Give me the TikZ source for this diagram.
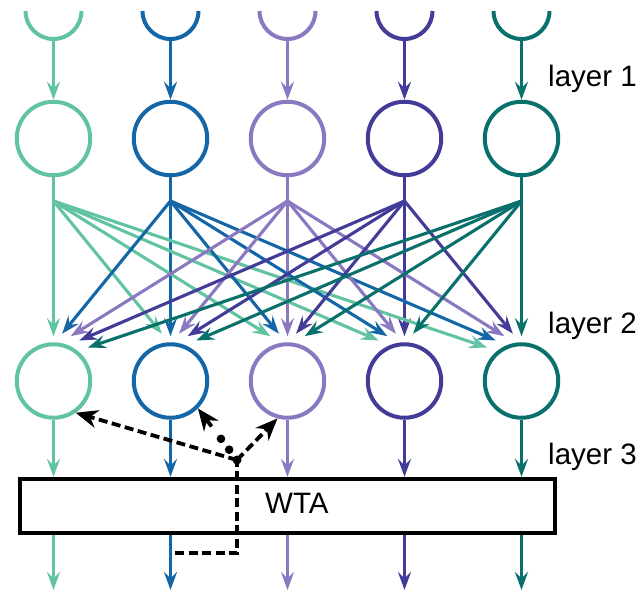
\documentclass[tikz,border=0pt]{standalone}
\usepackage{fontspec}
\setmainfont{Liberation Sans}
\usetikzlibrary{arrows.meta,calc}
\definecolor{cA}{HTML}{62C3A2}
\definecolor{cB}{HTML}{1566A6}
\definecolor{cC}{HTML}{8A78C0}
\definecolor{cD}{HTML}{423C98}
\definecolor{cE}{HTML}{0A706B}
\tikzset{
  arr/.style={line width=3.1pt,-{Stealth[length=18pt,width=13pt,inset=6.5pt]}},
  neuron/.style={circle,line width=4pt,minimum size=73.5pt,inner sep=0pt},
  cupline/.style={line width=4pt},
  lab/.style={anchor=base west,inner sep=0pt,font=\fontsize{29.5}{30}\selectfont},
  dashline/.style={line width=3.8pt,dash pattern=on 9pt off 4.5pt},
  blackarr/.style={line width=3.8pt,-{Stealth[length=22pt,width=18pt,inset=7pt]}},
}
\begin{document}
\begin{tikzpicture}[x=1pt,y=-1pt]
\useasboundingbox (0,0) rectangle (643,592);
% WTA box
\node[draw,line width=3.8pt,minimum width=535.5pt,minimum height=54.5pt,inner sep=0pt] (wta) at (287.5,506) {};
\node[lab] (wtatext) at (265,513) {WTA};
% columns
\foreach \k/\c in {1/cA,2/cB,3/cC,4/cD,5/cE} {
  \pgfmathsetmacro{\xx}{53.5+117*(\k-1)}
  \coordinate (u\k) at (\xx,39);
  \coordinate (j\k) at (\xx,201);
  \coordinate (o\k) at (\xx,590);
  \draw[cupline,\c] (\xx-28,11) arc[start angle=180,end angle=360,radius=28pt];
  \node[neuron,draw=\c] (a\k) at (\xx,138.5) {};
  \node[neuron,draw=\c] (b\k) at (\xx,381) {};
  \draw[arr,\c] (u\k) -- (a\k);
  \draw[arr,\c,shorten >=6pt] (a\k) -- (b\k);
  \draw[arr,\c] (b\k) -- (b\k |- wta.north);
  \draw[arr,\c] (b\k |- wta.south) -- (o\k);
}
% all-to-all connections
\foreach \k/\c in {1/cA,2/cB,3/cC,4/cD,5/cE} {
  \foreach \j in {1,...,5} {
    \ifnum\j=\k\else
      \pgfmathsetmacro{\off}{8.6*(\k-\j)}
      \pgfmathsetmacro{\yy}{381-sqrt(2304-\off*\off)}
      \pgfmathsetmacro{\tx}{53.5+117*(\j-1)+\off}
      \coordinate (t\k\j) at (\tx,\yy);
      \draw[arr,\c] (j\k) -- (t\k\j);
    \fi
  }
}
% labels
\node[lab] (l1) at (548,86) {layer 1};
\node[lab] (l2) at (548,333) {layer 2};
\node[lab] (l3) at (548,464) {layer 3};
% WTA feedback
\coordinate (J) at (237,460);
\coordinate (w0) at (175,553);
\coordinate (w1) at (237,553);
\draw[dashline] (w0) -- (w1) -- (J);
\draw[dashline,-{Stealth[length=22pt,width=18pt,inset=7pt]}] (J) -- (b1.-55);
\draw[dashline,-{Stealth[length=22pt,width=18pt,inset=7pt]}] (J) -- (b3.-105);
\fill (J) circle[radius=4.5pt];
\fill ($(J)!0.2!(b2.-45)$) circle[radius=4.3pt];
\fill ($(J)!0.41!(b2.-45)$) circle[radius=4.3pt];
\draw[blackarr] ($(J)!0.65!(b2.-45)$) -- (b2.-45);
\end{tikzpicture}
\end{document}
